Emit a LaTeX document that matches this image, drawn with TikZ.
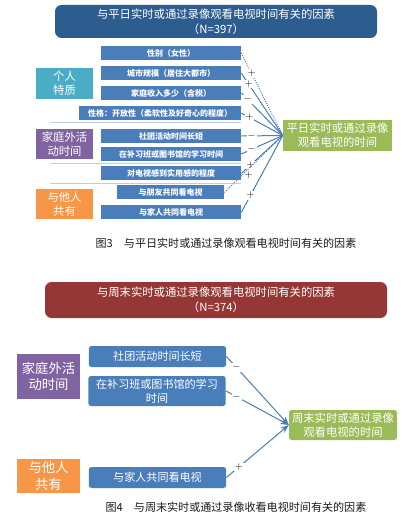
\documentclass[tikz,border=0pt]{standalone}
\usepackage{fontspec}
\setmainfont{Noto Sans CJK SC}
\usepackage{tikz}
\usetikzlibrary{arrows.meta,positioning}
\definecolor{tvhead}{HTML}{2D5D8F}
\definecolor{tvheadw}{HTML}{953735}
\definecolor{tvbox}{HTML}{4A7EBB}
\definecolor{tvteal}{HTML}{4BACC6}
\definecolor{tvpurp}{HTML}{8064A2}
\definecolor{tvorng}{HTML}{F79646}
\definecolor{tvgrn}{HTML}{9BBB59}
\definecolor{tvsep}{HTML}{B9CDE5}
\definecolor{tvink}{HTML}{1A1A1A}
\tikzset{
  headbox/.style={rounded corners=5pt,text=white,align=center,inner sep=0pt,
              font=\fontsize{8.5}{11}\selectfont},
  fac/.style={fill=tvbox,text=white,inner sep=0pt,minimum width=105pt,
              minimum height=10.5pt,font=\fontsize{6}{7}\selectfont\bfseries},
  bigfac/.style={fill=tvbox,text=white,inner sep=0pt,rounded corners=2pt,align=center,
              minimum width=103pt,minimum height=15.75pt,font=\fontsize{8.3}{10.5}\selectfont},
  cat/.style={text=white,inner sep=0pt,align=center,minimum width=42.75pt,
              minimum height=22.5pt,font=\fontsize{8.5}{10.5}\selectfont},
  bigcat/.style={cat,minimum width=47.25pt,font=\fontsize{10}{12.5}\selectfont},
  tgt/.style={fill=tvgrn,text=white,inner sep=0pt,align=center,minimum width=81pt,
              minimum height=23pt,font=\fontsize{8.5}{10.5}\selectfont},
  sepl/.style={draw=tvsep,line width=0.8pt},
  conn/.style={draw=tvbox,line width=0.75pt},
  connd/.style={conn,densely dotted},
  arr/.style={conn,-{Stealth[length=2.2mm]}},
  sgn/.style={fill=white,inner sep=0.6pt,text=tvink,font=\fontsize{7.5}{7.5}\selectfont},
  figcap/.style={text=tvink,font=\fontsize{8.3}{10}\selectfont},
}
\begin{document}
\begin{tikzpicture}[x=0.75pt,y=-0.75pt]
  \useasboundingbox[fill=white] (0,0) rectangle (415,530);
  % figure 3
  \node[headbox,fill=tvhead,minimum width=241.5pt,minimum height=24.75pt] (headA) at (216,21.5)
    {与平日实时或通过录像观看电视时间有关的因素\\（N=397）};
  \node[fac] (b1) at (171,53) {性别（女性）};
  \node[fac] (b2) at (171,73) {城市规模（居住大都市）};
  \node[fac] (b3) at (171,93) {家庭收入多少（含税）};
  \node[fac,minimum width=121.5pt] (b4) at (160,113) {性格：开放性（柔软性及好奇心的程度）};
  \node[fac] (b5) at (171,136) {社团活动时间长短};
  \node[fac] (b6) at (171,154) {在补习班或图书馆的学习时间};
  \node[fac] (b7) at (171,173.5) {对电视感到实用感的程度};
  \node[fac,minimum width=80.25pt] (b8) at (170.5,192.5) {与朋友共同看电视};
  \node[fac] (b9) at (171,212.5) {与家人共同看电视};
  \node[cat,fill=tvteal,minimum height=23.25pt] (ca1) at (64.5,83.5) {个人\\特质};
  \node[cat,fill=tvpurp] (ca2) at (64.5,144) {家庭外活\\动时间};
  \node[cat,fill=tvorng] (ca3) at (64.5,204) {与他人\\共有};
  \node[tgt,minimum width=81.75pt] (tgtA) at (337.5,135.5) {平日实时或通过录像\\观看电视的时间};
  \coordinate (s1a) at (50,122.5); \coordinate (s1b) at (241,122.5);
  \coordinate (s2a) at (50,163.5); \coordinate (s2b) at (241,163.5);
  \coordinate (s3a) at (50,183.5); \coordinate (s3b) at (241,183.5);
  \draw[sepl] (s1a) -- (s1b);
  \draw[sepl] (s2a) -- (s2b);
  \draw[sepl] (s3a) -- (s3b);
  \draw[connd] (b1.east) -- node[sgn,pos=0.25] {$+$} (tgtA.west);
  \draw[conn] (b2.east) -- node[sgn,pos=0.18] {$+$} (tgtA.west);
  \draw[conn] (b3.east) -- node[sgn,pos=0.15] {$-$} (tgtA.west);
  \draw[conn] (b4.east) -- node[sgn,pos=0.2] {$+$} (tgtA.west);
  \draw[conn] (b5.east) -- node[sgn,pos=0.25] {$-$} (tgtA.west);
  \draw[conn] (b6.east) -- node[sgn,pos=0.25] {$-$} (tgtA.west);
  \draw[conn] (b7.east) -- node[sgn,pos=0.22] {$+$} (tgtA.west);
  \draw[connd] (b8.east) -- node[sgn,fill=none,pos=0.3,right=1pt] {$+$} (tgtA.west);
  \draw[conn] (b9.east) -- node[sgn,pos=0.22] {$+$} (tgtA.west);
  \node[figcap] (capA) at (226,243) {图3\quad 与平日实时或通过录像观看电视时间有关的因素};
  % figure 4
  \node[headbox,fill=tvheadw,minimum width=256.5pt,minimum height=27pt] (headB) at (216,300)
    {与周末实时或通过录像观看电视时间有关的因素\\（N=374）};
  \node[bigfac] (c1) at (157.5,356.5) {社团活动时间长短};
  \node[bigfac,minimum height=22.5pt] (c2) at (157,391) {在补习班或图书馆的学习\\时间};
  \node[bigfac] (c3) at (157.5,477.5) {与家人共同看电视};
  \node[bigcat,fill=tvpurp,minimum height=33.75pt] (cb1) at (48.5,376.5) {家庭外活\\动时间};
  \node[bigcat,fill=tvorng,minimum height=25.5pt] (cb2) at (48.5,476) {与他人\\共有};
  \node[tgt,rounded corners=2pt,minimum height=22.5pt] (tgtB) at (343,425) {周末实时或通过录像\\观看电视的时间};
  \draw[arr] (c1.east) -- node[sgn,pos=0.16] {$-$} (tgtB.west);
  \draw[arr] (c2.east) -- node[sgn,pos=0.17] {$-$} (tgtB.west);
  \draw[arr] (c3.east) -- node[sgn,pos=0.2] {$+$} (tgtB.west);
  \node[figcap] (capB) at (236,507) {图4\quad 与周末实时或通过录像收看电视时间有关的因素};
\end{tikzpicture}
\end{document}
